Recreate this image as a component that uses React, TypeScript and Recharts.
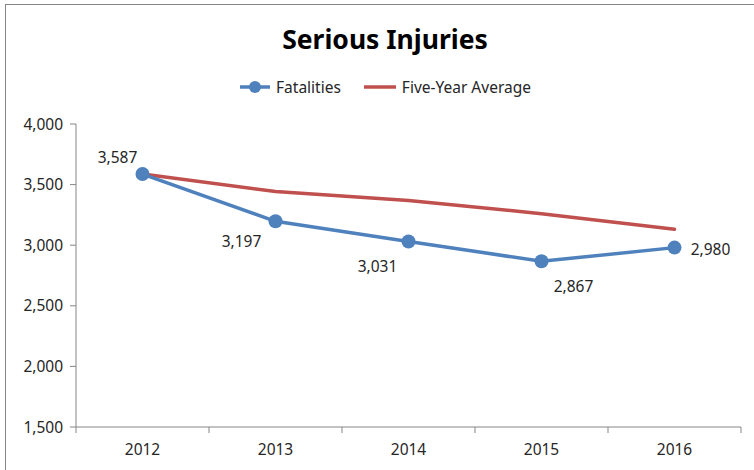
import { LineChart, Line, XAxis, YAxis, LabelList } from 'recharts';

const years = ['2012', '2013', '2014', '2015', '2016'];
const fatalities = [3587, 3197, 3031, 2867, 2980];
const fiveYearAverage = [3587, 3443, 3369, 3260, 3131];
const yTicks = [1500, 2000, 2500, 3000, 3500, 4000];
const seriesNames = ['Fatalities', 'Five-Year Average'];

const BLUE = '#4F81BD';
const RED = '#C0504D';
const AXIS = '#868686';
const TEXT = '#262626';
const FONT = '"Noto Sans", "Open Sans", sans-serif';

const W = 754;
const H = 470;
const MARGIN = { top: 124, right: 13, bottom: 13, left: 6 };
const Y_AXIS_W = 70;
const BAND = (W - MARGIN.left - MARGIN.right - Y_AXIS_W) / years.length;

// where each data label sits relative to its point
const LABEL_OFFSETS: [number, number][] = [
  [-25, -17],
  [-34, 20],
  [-31, 25],
  [32, 25],
  [36, 1],
];

const data = years.map((year, i) => ({
  year,
  fatalities: fatalities[i],
  average: fiveYearAverage[i],
}));

const fmt = (v: number) => v.toLocaleString('en-US');

function XTick(props: any) {
  const { x, y, payload, index } = props;
  const axisY = y - 6;
  return (
    <g>
      <line x1={x - BAND / 2} x2={x - BAND / 2} y1={axisY} y2={axisY + 6} stroke={AXIS} />
      {index === years.length - 1 && (
        <line x1={x + BAND / 2} x2={x + BAND / 2} y1={axisY} y2={axisY + 6} stroke={AXIS} />
      )}
      <text x={x} y={axisY + 22} textAnchor="middle" dominantBaseline="central" fill={TEXT} fontSize={15.5} fontFamily={FONT}>
        {payload.value}
      </text>
    </g>
  );
}

function PointLabel(props: any) {
  const { x, y, value, index } = props;
  const [dx, dy] = LABEL_OFFSETS[index] || [0, -15];
  return (
    <text x={x + dx} y={y + dy} textAnchor="middle" dominantBaseline="central" fill={TEXT} fontSize={15.5} fontFamily={FONT}>
      {fmt(value)}
    </text>
  );
}

export default function App() {
  return (
    <div style={{ position: 'absolute', left: 0, top: 0, width: W, height: H, overflow: 'hidden', background: '#fff', fontFamily: FONT }}>
      <div style={{ position: 'absolute', left: 5, top: 4, width: 800, height: 520, border: `1px solid ${AXIS}` }} />
      <div style={{ position: 'absolute', left: 8, top: 22, width: W, textAlign: 'center', fontSize: 26.5, fontWeight: 700, lineHeight: '34px', color: '#000' }}>
        Serious Injuries
      </div>
      <div style={{ position: 'absolute', left: 8, top: 77, width: W, display: 'flex', justifyContent: 'center', alignItems: 'center', fontSize: 15.5, color: TEXT, lineHeight: '20px' }}>
        <svg width={32} height={14}>
          <line x1={1} x2={31} y1={7} y2={7} stroke={BLUE} strokeWidth={3.5} />
          <circle cx={16} cy={7} r={6} fill={BLUE} />
        </svg>
        <span style={{ marginLeft: 5 }}>{seriesNames[0]}</span>
        <svg width={34} height={14} style={{ marginLeft: 22 }}>
          <line x1={1} x2={33} y1={7} y2={7} stroke={RED} strokeWidth={3.5} />
        </svg>
        <span style={{ marginLeft: 5 }}>{seriesNames[1]}</span>
      </div>
      <div style={{ position: 'absolute', left: 0, top: 0 }}>
        <LineChart width={W} height={H} data={data} margin={MARGIN}>
          <XAxis
            dataKey="year"
            scale="band"
            height={30}
            axisLine={{ stroke: AXIS }}
            tickLine={false}
            tickSize={6}
            tickMargin={0}
            tick={<XTick />}
            interval={0}
          />
          <YAxis
            width={Y_AXIS_W}
            domain={[1500, 4000]}
            ticks={yTicks}
            tickFormatter={fmt}
            axisLine={{ stroke: AXIS }}
            tickLine={{ stroke: AXIS }}
            tickSize={6}
            tickMargin={7}
            tick={{ fill: TEXT, fontSize: 15.5, fontFamily: FONT }}
            allowDataOverflow
          />
          <Line
            dataKey="average"
            name={seriesNames[1]}
            stroke={RED}
            strokeWidth={3.5}
            dot={false}
            activeDot={false}
            strokeLinecap="round"
            isAnimationActive={false}
          />
          <Line
            dataKey="fatalities"
            name={seriesNames[0]}
            stroke={BLUE}
            strokeWidth={3.5}
            dot={{ r: 7, fill: BLUE, stroke: 'none' }}
            activeDot={false}
            strokeLinecap="round"
            isAnimationActive={false}
          >
            <LabelList dataKey="fatalities" content={<PointLabel />} />
          </Line>
        </LineChart>
      </div>
    </div>
  );
}
